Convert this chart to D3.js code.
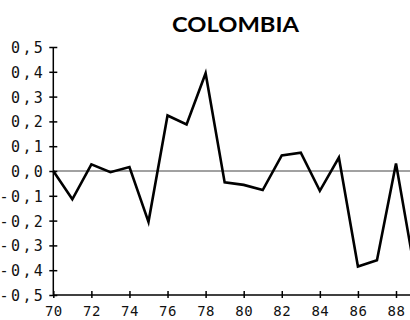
<!DOCTYPE html>
<html>
<head>
<meta charset="utf-8">
<script src="https://cdn.jsdelivr.net/npm/d3@7"></script>
<style>
  html, body { margin: 0; padding: 0; background: #fff; overflow: hidden; }
  svg { display: block; }
</style>
</head>
<body>
<svg id="chart" width="410" height="320"></svg>
<script>
const title = "COLOMBIA";
const years = [70,71,72,73,74,75,76,77,78,79,80,81,82,83,84,85,86,87,88,89];
const values = [0.0,-0.114,0.027,-0.005,0.016,-0.205,0.224,0.188,0.394,-0.046,-0.056,-0.077,0.063,0.074,-0.08,0.054,-0.385,-0.36,0.03,-0.41];
const yTicks = [0.5,0.4,0.3,0.2,0.1,0.0,-0.1,-0.2,-0.3,-0.4,-0.5];
const xTicks = [70,72,74,76,78,80,82,84,86,88];

const svg = d3.select("#chart");
const x = d3.scaleLinear().domain([70, 88]).range([53.3, 396]);
const y = d3.scaleLinear().domain([-0.5, 0.5]).range([295, 47]);

const fmt = v => (v < 0 ? "-" : "") + Math.abs(v).toFixed(1).replace(".", ",");

// title
const t = svg.append("text")
  .attr("x", 235.5).attr("y", 32)
  .attr("text-anchor", "middle")
  .attr("font-family", "Lato, 'Open Sans', sans-serif")
  .attr("font-weight", 700)
  .attr("font-size", 21)
  .attr("fill", "#000")
  .text(title);
t.attr("textLength", 127).attr("lengthAdjust", "spacingAndGlyphs");

// zero line
svg.append("line")
  .attr("x1", x(70)).attr("x2", 410)
  .attr("y1", y(0)).attr("y2", y(0))
  .attr("stroke", "#444").attr("stroke-width", 1);

// y axis
const yAxis = d3.axisLeft(y).tickValues(yTicks).tickSize(0).tickFormat(fmt);
const gy = svg.append("g").attr("transform", `translate(${x(70)},0)`).call(yAxis);
gy.select(".domain").remove();
gy.append("line").attr("x1", 0).attr("x2", 0).attr("y1", y(0.5)).attr("y2", y(-0.5))
  .attr("stroke", "#000").attr("stroke-width", 1.5);
gy.selectAll(".tick").append("line")
  .attr("x1", -4).attr("x2", 4).attr("stroke", "#000").attr("stroke-width", 1.5);
gy.selectAll(".tick text")
  .attr("x", -8).attr("dy", "0.36em")
  .attr("font-family", "'DejaVu Sans Mono', monospace")
  .attr("font-size", 15)
  .attr("letter-spacing", 2.4)
  .attr("fill", "#111");

// x axis
const xAxis = d3.axisBottom(x).tickValues(xTicks).tickSize(0).tickFormat(d => d);
const gx = svg.append("g").attr("transform", `translate(0,${y(-0.5)})`).call(xAxis);
gx.select(".domain").remove();
gx.append("line").attr("x1", x(70)).attr("x2", 410).attr("y1", 0).attr("y2", 0)
  .attr("stroke", "#000").attr("stroke-width", 1.5);
gx.selectAll(".tick").append("line")
  .attr("y1", -4).attr("y2", 3).attr("stroke", "#000").attr("stroke-width", 1.5);
gx.selectAll(".tick text")
  .attr("y", 11).attr("dy", "0.71em")
  .attr("font-family", "'DejaVu Sans Mono', monospace")
  .attr("font-size", 14)
  .attr("letter-spacing", 0.5)
  .attr("fill", "#111");

// data line
const line = d3.line().x((d, i) => x(years[i])).y(d => y(d));
svg.append("path")
  .datum(values)
  .attr("d", line)
  .attr("fill", "none")
  .attr("stroke", "#000")
  .attr("stroke-width", 2.6)
  .attr("stroke-linejoin", "miter");
</script>
</body>
</html>
